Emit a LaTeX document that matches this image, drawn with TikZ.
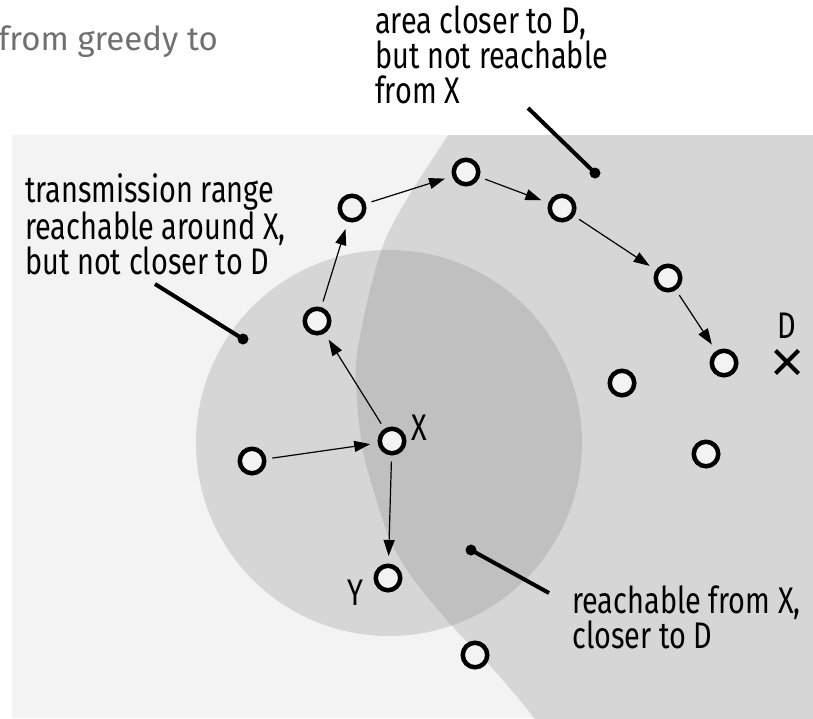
\documentclass[tikz,border=0pt]{standalone}
\usepackage{fontspec}
\setmainfont{Fira Sans}[FakeStretch=0.78]
\newfontfamily\titlefont{Fira Sans}
\usetikzlibrary{arrows.meta}
\definecolor{bgl}{HTML}{F3F3F3}
\definecolor{reg}{HTML}{D6D6D6}
\definecolor{ovl}{HTML}{C0C0C0}
\definecolor{ttl}{HTML}{707070}
\begin{document}
\begin{tikzpicture}[x=1pt,y=-1pt,
  netnode/.style={circle,draw=black,line width=4.5pt,fill=bgl,minimum size=24.5pt,inner sep=0pt},
  arr/.style={line width=1.2pt,-{Triangle[length=16pt,width=11pt]},shorten <=6pt,shorten >=7.5pt},
  callout/.style={line width=4pt},
  lbl/.style={font=\fontsize{37}{35}\selectfont,inner sep=0pt,align=left,anchor=base west},
  letter/.style={font=\fontsize{37}{35}\selectfont,inner sep=0pt,anchor=base}]
\useasboundingbox (0,0) rectangle (813,718);
\def\bigregion{plot[smooth] coordinates {(485,80) (448,135) (386,238) (358,347) (357,400) (365,460) (389,537) (414,580) (453,627) (494,670) (534,718) (560,760)} -- (900,760) -- (900,80) -- cycle}
\fill[bgl] (12,135) rectangle (813,718);
\begin{scope}
  \clip (12,135) rectangle (813,718);
  \fill[reg] \bigregion;
  \fill[reg] (389,443) circle[radius=193pt];
  \begin{scope}
    \clip \bigregion;
    \fill[ovl] (389,443) circle[radius=193pt];
  \end{scope}
\end{scope}
% title
\node[inner sep=0pt,anchor=base east,text=ttl,font=\titlefont\fontsize{33}{35}\selectfont] (title) at (218,50) {from greedy to};
% nodes
\node[netnode] (n1) at (252,461) {};
\node[netnode] (x) at (392,441) {};
\node[netnode] (y) at (388,578) {};
\node[netnode] (na) at (317,321) {};
\node[netnode] (nb) at (352,208) {};
\node[netnode] (nc) at (466,172) {};
\node[netnode] (nd) at (562,208) {};
\node[netnode] (ne) at (668,278) {};
\node[netnode] (nf) at (724,363) {};
\node[netnode] (ng) at (622,383) {};
\node[netnode] (nh) at (706,454) {};
\node[netnode] (ni) at (475,655) {};
% arrows
\draw[arr] (n1) -- (x);
\draw[arr] (x) -- (na);
\draw[arr] (na) -- (nb);
\draw[arr] (nb) -- (nc);
\draw[arr] (nc) -- (nd);
\draw[arr] (nd) -- (ne);
\draw[arr] (ne) -- (nf);
\draw[arr] (x) -- (y);
% letters
\node[letter] (xl) at (419,440) {X};
\node[letter] (yl) at (355,605) {Y};
\node[letter] (dl) at (787,338) {D};
\coordinate (dpos) at (787,362);
\draw[line width=4pt] ([shift={(-11.5,-11.5)}]dpos) -- ([shift={(11.5,11.5)}]dpos);
\draw[line width=4pt] ([shift={(-11.5,11.5)}]dpos) -- ([shift={(11.5,-11.5)}]dpos);
% texts (anchor at baseline of last line)
\node[lbl] (t1) at (375,103) {area closer to D,\\but not reachable\\from X};
\node[lbl] (t2) at (25,274) {transmission range\\reachable around X,\\but not closer to D};
\node[lbl] (t3) at (572,648) {reachable from X,\\closer to D};
% callouts
\coordinate (c1a) at (528,108); \coordinate (c1b) at (595,173);
\coordinate (c2a) at (155,284); \coordinate (c2b) at (243,339);
\coordinate (c3a) at (549,593); \coordinate (c3b) at (471,550);
\draw[callout] (c1a) -- (c1b); \fill (c1b) circle[radius=5.5pt];
\draw[callout] (c2a) -- (c2b); \fill (c2b) circle[radius=5.5pt];
\draw[callout] (c3a) -- (c3b); \fill (c3b) circle[radius=5.5pt];
\end{tikzpicture}
\end{document}
